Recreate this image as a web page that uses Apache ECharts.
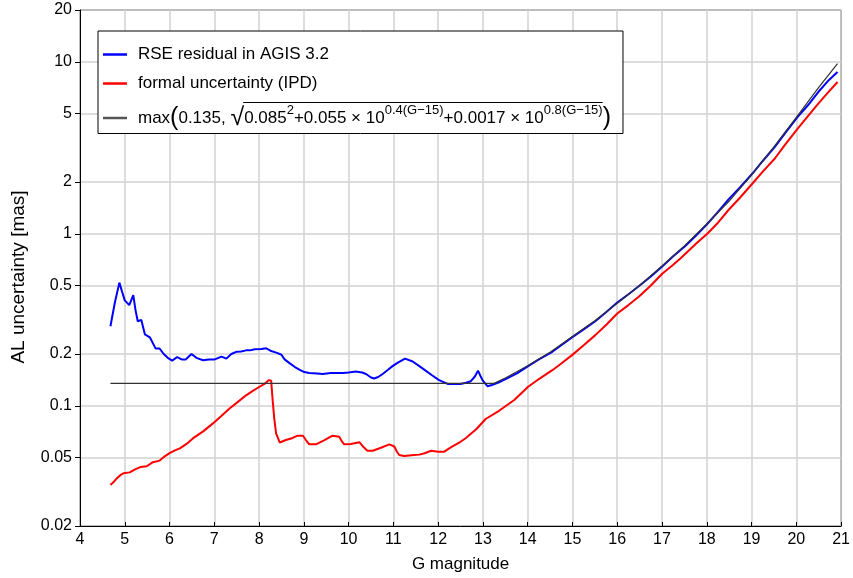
<!DOCTYPE html>
<html>
<head>
<meta charset="utf-8">
<script src="https://cdn.jsdelivr.net/npm/echarts@6/dist/echarts.min.js"></script>
<style>html,body{margin:0;padding:0;background:#fff}#c{width:853px;height:578px}</style>
</head>
<body>
<div id="c"></div>
<script>
var FONT = '"Liberation Sans", Arial, sans-serif';
var xTicks = [4,5,6,7,8,9,10,11,12,13,14,15,16,17,18,19,20,21];
var yTicks = [0.02,0.05,0.1,0.2,0.5,1,2,5,10,20];

var blueG = [4.68,4.78,4.88,4.94,5.00,5.10,5.19,5.24,5.29,5.37,5.45,5.56,5.69,5.78,5.87,5.96,6.06,6.17,6.27,6.36,6.49,6.60,6.75,6.88,7.01,7.16,7.27,7.38,7.49,7.60,7.71,7.80,7.90,8.05,8.16,8.27,8.40,8.50,8.57,8.68,8.80,8.92,9.01,9.12,9.30,9.42,9.60,9.87,10.00,10.16,10.30,10.39,10.50,10.57,10.66,10.76,10.88,10.98,11.10,11.26,11.43,11.58,11.72,11.87,12.02,12.21,12.40,12.50,12.62,12.73,12.82,12.89,12.94,12.99,13.10,13.20,13.36,13.55,13.77,14.01,14.25,14.55,14.75,14.99,15.25,15.51,15.75,16.00,16.25,16.48,16.75,17.01,17.25,17.52,17.75,18.01,18.25,18.48,18.75,19.02,19.25,19.52,19.75,20.03,20.25,20.49,20.70,20.92];
var blueV = [0.29,0.40,0.52,0.46,0.41,0.385,0.44,0.36,0.31,0.315,0.26,0.25,0.215,0.215,0.2,0.19,0.183,0.192,0.186,0.186,0.2,0.19,0.184,0.186,0.186,0.193,0.188,0.2,0.206,0.207,0.21,0.21,0.213,0.214,0.216,0.208,0.203,0.198,0.186,0.177,0.168,0.161,0.157,0.155,0.154,0.153,0.155,0.155,0.156,0.158,0.156,0.153,0.146,0.144,0.147,0.153,0.162,0.170,0.178,0.188,0.181,0.17,0.16,0.15,0.141,0.134,0.134,0.134,0.136,0.139,0.148,0.16,0.15,0.141,0.130,0.132,0.137,0.145,0.155,0.17,0.186,0.206,0.225,0.25,0.278,0.31,0.35,0.398,0.445,0.495,0.565,0.648,0.74,0.85,0.97,1.14,1.34,1.58,1.87,2.24,2.65,3.2,3.85,4.78,5.55,6.67,7.7,8.73];

var redG = [4.68,4.75,4.82,4.90,4.97,5.11,5.23,5.35,5.49,5.63,5.78,5.90,6.00,6.12,6.23,6.38,6.52,6.75,6.97,7.15,7.34,7.52,7.71,7.86,8.01,8.12,8.22,8.27,8.30,8.34,8.38,8.46,8.60,8.75,8.86,8.98,9.05,9.12,9.27,9.45,9.64,9.79,9.85,9.90,10.05,10.24,10.32,10.42,10.54,10.72,10.91,11.02,11.08,11.13,11.24,11.40,11.58,11.70,11.84,12.00,12.13,12.22,12.32,12.47,12.62,12.85,13.06,13.36,13.70,14.01,14.25,14.55,14.75,14.99,15.25,15.51,15.75,16.00,16.25,16.48,16.75,17.01,17.25,17.41,17.77,18.01,18.25,18.48,18.75,19.02,19.25,19.52,19.75,20.03,20.25,20.49,20.70,20.92];
var redV = [0.0346,0.036,0.0378,0.0395,0.0405,0.041,0.0427,0.044,0.0445,0.047,0.048,0.051,0.053,0.055,0.0565,0.06,0.0646,0.071,0.079,0.087,0.0964,0.105,0.115,0.122,0.129,0.134,0.141,0.140,0.11,0.084,0.069,0.0612,0.0632,0.065,0.067,0.067,0.063,0.0597,0.0597,0.063,0.067,0.066,0.062,0.0597,0.060,0.0614,0.058,0.0548,0.0548,0.057,0.0597,0.058,0.054,0.0517,0.051,0.0515,0.052,0.053,0.0548,0.054,0.054,0.056,0.058,0.061,0.065,0.073,0.0838,0.0935,0.108,0.129,0.143,0.161,0.176,0.197,0.225,0.2575,0.295,0.344,0.385,0.43,0.5,0.587,0.66,0.718,0.88,1.0,1.16,1.37,1.63,1.96,2.3,2.74,3.3,4.09,4.8,5.71,6.6,7.63];

var modelG = [4.68,13.25,13.5,14,14.5,15,15.5,16,16.5,17,17.5,18,18.5,19,19.5,20,20.5,20.92];
var modelV = [0.135,0.135,0.145,0.171,0.205,0.253,0.312,0.395,0.50,0.65,0.85,1.14,1.55,2.2,3.2,4.75,7.1,9.75];

var names = ['RSE residual in AGIS 3.2', 'formal uncertainty (IPD)', 'model'];

function pairs(a, b) { return a.map(function (x, i) { return [x, b[i]]; }); }

// legend text metrics (for the square-root overline decoration)
var LF = 17, SF = 13, BF = 25;
var LEG = {left: 98, top: 31, padT: 15, padL: 5, padR: 12, itemW: 24, gap: 6, row: 22, row3: 28, itemGap: 12};
var cv = document.createElement('canvas').getContext('2d');
function tw(s, size) { cv.font = size + 'px ' + FONT; return cv.measureText(s).width; }
var rad = ['0.085', '+0.055 × 10', '+0.0017 × 10'];
var sups = ['2', '0.4(G−15)', '0.8(G−15)'];
var textX = LEG.left + LEG.padL + LEG.itemW + 5 + LEG.gap;
var olStart = textX + tw('max', LF) + tw('(', BF) + tw('0.135, ', LF) + tw('√', BF) - 1;
var olEnd = olStart + 1 + tw(rad[0], LF) + tw(sups[0], SF) + tw(rad[1], LF) + tw(sups[1], SF) + tw(rad[2], LF) + tw(sups[2], SF);
var olY = LEG.top + LEG.padT + 56.5;

var chart = echarts.init(document.getElementById('c'), null, {renderer: 'canvas'});
chart.setOption({
  animation: false,
  backgroundColor: '#fff',
  textStyle: {fontFamily: FONT},
  grid: {left: 80, right: 10, top: 10, bottom: 52, show: true, borderColor: '#000', borderWidth: 1, backgroundColor: 'transparent'},
  legend: {
    left: LEG.left, top: LEG.top, orient: 'vertical',
    backgroundColor: '#fff', borderColor: '#000', borderWidth: 1,
    padding: [LEG.padT, LEG.padR, 3, LEG.padL], itemGap: LEG.itemGap,
    itemWidth: LEG.itemW, itemHeight: 2.5, icon: 'rect',
    data: [
      {name: names[0], itemStyle: {color: '#0000ff'}},
      {name: names[1], itemStyle: {color: '#ff0000'}},
      {name: names[2], itemStyle: {color: '#555'}}
    ],
    textStyle: {fontFamily: FONT, fontSize: LF, color: '#000',
      rich: {
        g: {width: LEG.gap, lineHeight: LEG.row},
        t: {fontFamily: FONT, fontSize: LF, color: '#000', lineHeight: LEG.row, verticalAlign: 'middle'},
        n: {fontFamily: FONT, fontSize: LF, color: '#000', lineHeight: LEG.row3, verticalAlign: 'middle'},
        b: {fontFamily: FONT, fontSize: BF, color: '#000', lineHeight: LEG.row3, verticalAlign: 'middle'},
        s: {fontFamily: FONT, fontSize: SF, color: '#000', lineHeight: 15, verticalAlign: 'top'}
      }
    },
    formatter: function (n) {
      if (n === names[2]) {
        return '{g|}{n|max}{b|(}{n|0.135, }{b|√}{n|' + rad[0] + '}{s|' + sups[0] + '}{n|' + rad[1] + '}{s|' + sups[1] + '}{n|' + rad[2] + '}{s|' + sups[2] + '}{b|)}';
      }
      return '{g|}{t|' + n + '}';
    }
  },
  graphic: [{
    type: 'line', z: 100, silent: true,
    shape: {x1: olStart, y1: olY, x2: olEnd, y2: olY},
    style: {stroke: '#000', lineWidth: 1}
  }],
  xAxis: {
    type: 'value', min: 4, max: 21, interval: 1,
    name: 'G magnitude', nameLocation: 'middle', nameGap: 30,
    nameTextStyle: {fontFamily: FONT, fontSize: 17, color: '#000'},
    axisLine: {lineStyle: {color: '#000', width: 1}},
    axisTick: {inside: true, length: 4, lineStyle: {color: '#000'}},
    axisLabel: {fontFamily: FONT, fontSize: 16, color: '#000', margin: 6},
    splitLine: {lineStyle: {color: '#d2d2d2', width: 1.5}}
  },
  yAxis: {
    type: 'log', logBase: 10, min: 0.02, max: 20,
    name: 'AL uncertainty [mas]', nameLocation: 'middle', nameGap: 52,
    nameTextStyle: {fontFamily: FONT, fontSize: 19, color: '#000', padding: [0, 18, 0, 0]},
    axisLine: {lineStyle: {color: '#000', width: 1}},
    axisTick: {length: 5, lineStyle: {color: '#000'}, customValues: yTicks},
    axisLabel: {fontFamily: FONT, fontSize: 16, color: '#000', margin: 8, customValues: yTicks,
      formatter: function (v) { return String(+(+v).toPrecision(3)); }},
    splitLine: {lineStyle: {color: '#d2d2d2', width: 1.5}}
  },
  series: [
    {name: names[0], type: 'line', data: pairs(blueG, blueV), showSymbol: false, lineStyle: {color: '#0000ff', width: 2}, itemStyle: {color: '#0000ff'}, z: 3},
    {name: names[1], type: 'line', data: pairs(redG, redV), showSymbol: false, lineStyle: {color: '#ff0000', width: 2}, itemStyle: {color: '#ff0000'}, z: 3},
    {name: names[2], type: 'line', data: pairs(modelG, modelV), showSymbol: false, lineStyle: {color: '#333', width: 1.2}, itemStyle: {color: '#555'}, z: 4}
  ]
});
</script>
</body>
</html>
